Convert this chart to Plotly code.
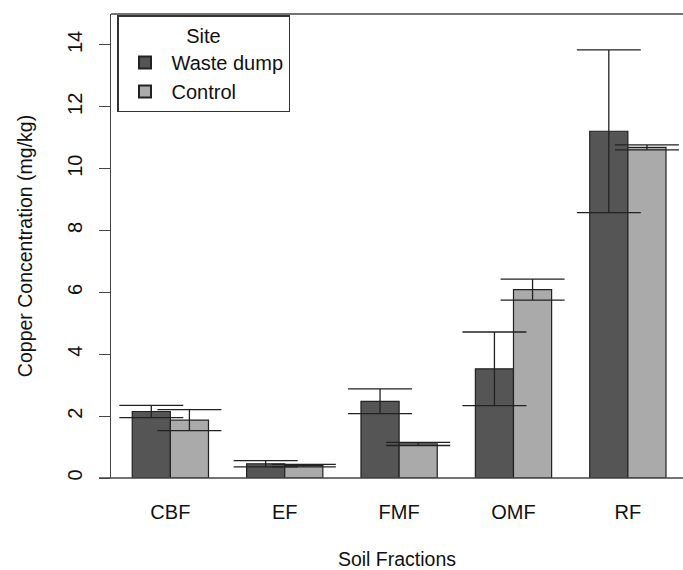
import plotly.graph_objects as go

fractions = ["CBF", "EF", "FMF", "OMF", "RF"]
waste_mean = [2.15, 0.46, 2.48, 3.53, 11.21]
waste_err = [0.20, 0.10, 0.40, 1.19, 2.63]
control_mean = [1.87, 0.40, 1.10, 6.09, 10.69]
control_err = [0.34, 0.04, 0.05, 0.34, 0.08]
series_names = ["Waste dump", "Control"]
series_colors = ["#555555", "#aaaaaa"]

W, H = 683, 570
ml, mr, mt, mb = 111, 0, 14, 92.3
FONT = "Liberation Sans, Arial, sans-serif"

fig = go.Figure()
means = [waste_mean, control_mean]
errs = [waste_err, control_err]
for name, col, m in zip(series_names, series_colors, means):
    fig.add_trace(go.Bar(
        x=fractions, y=m, name=name, offsetgroup=name,
        marker=dict(color=col, line=dict(color="#222222", width=1.2)),
    ))
# error bars drawn on top of all bars
for name, m, e in zip(series_names, means, errs):
    fig.add_trace(go.Scatter(
        x=fractions, y=m, mode="markers", offsetgroup=name,
        marker=dict(size=1, opacity=0), showlegend=False, hoverinfo="skip",
        error_y=dict(type="data", array=e, visible=True, color="#222222",
                     thickness=1.3, width=32),
    ))

fig.update_layout(
    width=W, height=H,
    margin=dict(l=ml, r=mr, t=mt, b=mb, pad=0),
    paper_bgcolor="white", plot_bgcolor="white",
    font=dict(family=FONT, size=20, color="#111111"),
    barmode="group", bargap=1/3, bargroupgap=0,
    scattermode="group", scattergap=1/3,
    showlegend=True,
    legend=dict(
        x=6/572, y=0.997, xanchor="left", yanchor="top",
        bgcolor="white", bordercolor="#333333", borderwidth=1.5,
        title=dict(text="Site", side="top center", font=dict(size=20)),
        font=dict(size=20), tracegroupgap=0, itemsizing="constant",
        itemwidth=43, entrywidth=133,
        traceorder="normal",
    ),
    xaxis=dict(
        range=[-0.519, 4.482], showline=False, ticks="", showgrid=False,
        zeroline=False, tickfont=dict(size=20), ticklabelstandoff=20,
        title=dict(text="Soil Fractions", font=dict(size=19.5), standoff=33),
    ),
    yaxis=dict(
        range=[0, 15], dtick=2, tick0=0, showline=True, linecolor="#444444",
        linewidth=1.3, ticks="outside", ticklen=11, tickwidth=1.3,
        tickcolor="#444444", tickangle=-90, showgrid=False, zeroline=False,
        tickfont=dict(size=20), ticklabelstandoff=9,
        title=dict(text="Copper Concentration (mg/kg)", font=dict(size=19.5),
                   standoff=26),
    ),
    shapes=[
        dict(type="line", xref="paper", yref="paper", x0=-12/572, x1=1,
             y0=0, y1=0, line=dict(color="#444444", width=1.3)),
        dict(type="line", xref="paper", yref="paper", x0=0, x1=1,
             y0=1, y1=1, line=dict(color="#444444", width=1.3)),
    ],
)

fig.write_html("out.html")
